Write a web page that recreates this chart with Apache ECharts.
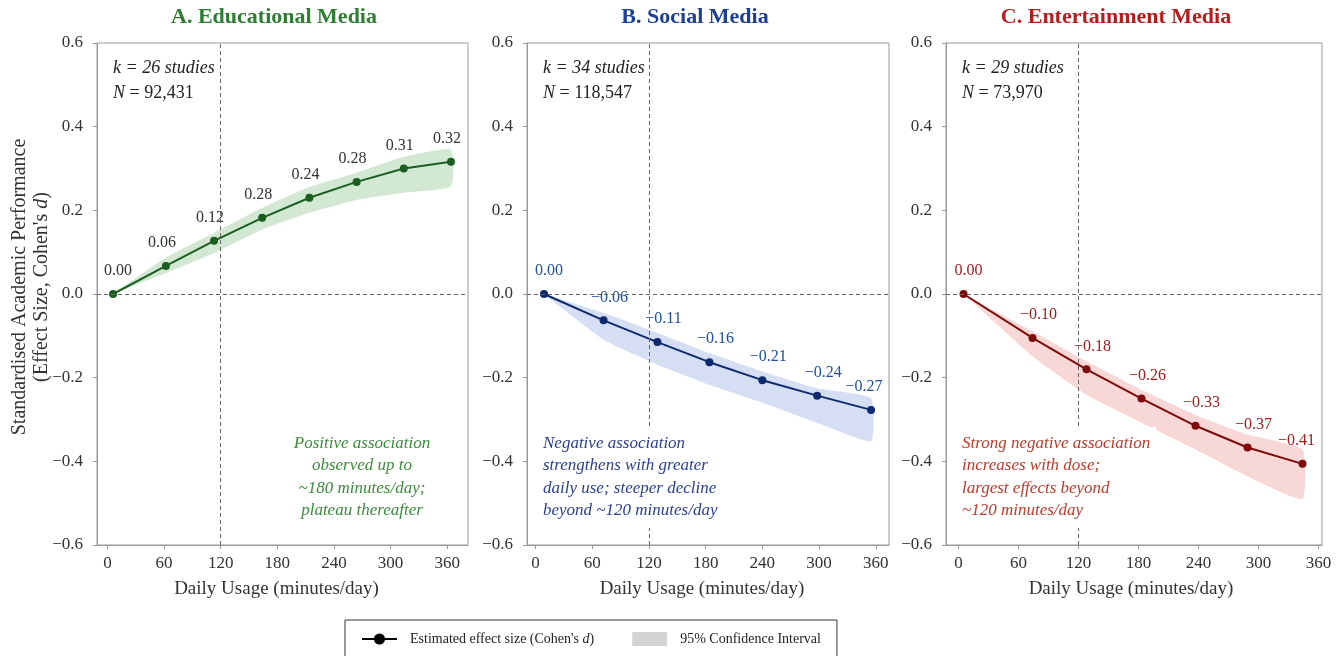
<!DOCTYPE html>
<html>
<head>
<meta charset="utf-8">
<script src="https://cdn.jsdelivr.net/npm/echarts@6/dist/echarts.min.js"></script>
<style>
  html, body { margin: 0; padding: 0; background: #fff; }
  #chart { width: 1343px; height: 656px; }
</style>
</head>
<body>
<div id="chart"></div>
<script>
// A. educational media
const eduX = [6, 62, 113, 164, 214, 264, 314, 364]
const eduY = [0.000, 0.067, 0.127, 0.182, 0.230, 0.268, 0.300, 0.316]
const eduLow = [0.000, 0.050, 0.098, 0.154, 0.194, 0.225, 0.242, 0.257]
const eduHigh = [0.000, 0.087, 0.146, 0.206, 0.256, 0.290, 0.328, 0.345]
const eduLabels = ['0.00', '0.06', '0.12', '0.28', '0.24', '0.28', '0.31', '0.32']

// B. social media
const socX = [9, 72, 129, 184, 240, 298, 355]
const socY = [0.000, -0.063, -0.115, -0.163, -0.206, -0.243, -0.277]
const socLow = [0.000, -0.109, -0.169, -0.217, -0.260, -0.308, -0.352]
const socHigh = [0.000, -0.045, -0.093, -0.141, -0.185, -0.225, -0.249]
const socLabels = ['0.00', '−0.06', '−0.11', '−0.16', '−0.21', '−0.24', '−0.27']

// C. entertainment media
const entX = [5, 74, 128, 183, 237, 289, 344]
const entY = [0.000, -0.105, -0.180, -0.250, -0.315, -0.367, -0.406]
const entLow = [0.000, -0.149, -0.241, -0.308, -0.372, -0.436, -0.490]
const entHigh = [0.000, -0.089, -0.161, -0.229, -0.289, -0.336, -0.372]
const entLabels = ['0.00', '−0.10', '−0.18', '−0.26', '−0.33', '−0.37', '−0.41']

const xTicks = [0, 60, 120, 180, 240, 300, 360]
const refX = 120

const EFF = "Estimated effect size (Cohen's d)"
const CI = '95% Confidence Interval'
const serif = '"Liberation Serif", "DejaVu Serif", serif'

// panel layout + colours
const panels = [
    {
        title: 'A. Educational Media', titleColor: '#2e7d32', titleX: 274,
        line: '#1b5e20', band: 'rgba(110,180,110,0.30)', labelColor: '#333',
        noteColor: '#3c8c3c', grid: {left: 97, top: 43, width: 371, height: 502}, xr: [-11, 382],
        x: eduX, y: eduY, lo: eduLow, hi: eduHigh, labels: eduLabels, dx: -4, lastDx: -4, nameShift: 12,
        k: 'k = 26 studies', n: ' = 92,431',
        note: ['Positive association', 'observed up to', '~180 minutes/day;', 'plateau thereafter'],
        noteX: 362, noteAlign: 'center'
    },
    {
        title: 'B. Social Media', titleColor: '#1c3f94', titleX: 695,
        line: '#0d2a6e', band: 'rgba(90,125,210,0.25)', labelColor: '#1f4fa0',
        noteColor: '#2b3f94', grid: {left: 527, top: 43, width: 362, height: 502}, xr: [-9, 374],
        x: socX, y: socY, lo: socLow, hi: socHigh, labels: socLabels, dx: 6, lastDx: -7, nameShift: 12,
        k: 'k = 34 studies', n: ' = 118,547',
        note: ['Negative association', 'strengthens with greater', 'daily use; steeper decline', 'beyond ~120 minutes/day'],
        noteX: 537, noteAlign: 'left'
    },
    {
        title: 'C. Entertainment Media', titleColor: '#b71c1c', titleX: 1116,
        line: '#7f0a0a', band: 'rgba(230,110,110,0.28)', labelColor: '#a31c1c',
        noteColor: '#c0392b', grid: {left: 946, top: 43, width: 376, height: 502}, xr: [-12.5, 363.5],
        x: entX, y: entY, lo: entLow, hi: entHigh, labels: entLabels, dx: 6, lastDx: -6, nameShift: 6,
        k: 'k = 29 studies', n: ' = 73,970',
        note: ['Strong negative association', 'increases with dose;', 'largest effects beyond', '~120 minutes/day'],
        noteX: 956, noteAlign: 'left'
    }
]

const fmtY = v => Math.abs(v) < 1e-9 ? '0.0' : v.toFixed(1).replace('-', '−')

let grids = [], xAxes = [], yAxes = [], series = [], titles = [], graphics = []

panels.forEach((p, i) => {
    grids.push(Object.assign({show: true, borderColor: '#9a9a9a', borderWidth: 1, backgroundColor: '#fff'}, p.grid))
    titles.push({
        text: p.title, left: p.titleX, top: 6, textAlign: 'center', padding: 0,
        textStyle: {fontFamily: serif, fontSize: 22, fontWeight: 'bold', color: p.titleColor}
    })
    xAxes.push({
        type: 'value', gridIndex: i, min: p.xr[0], max: p.xr[1],
        axisLine: {show: true, onZero: false, lineStyle: {color: '#9a9a9a'}},
        axisTick: {show: true, customValues: xTicks, length: 4, lineStyle: {color: '#9a9a9a'}},
        axisLabel: {customValues: xTicks, margin: 10, fontSize: 17, color: '#333', fontFamily: serif},
        splitLine: {show: false},
        name: 'Daily Usage (minutes/day)', nameLocation: 'middle', nameGap: 35,
        nameTextStyle: {fontFamily: serif, fontSize: 19, color: '#333', padding: [0, p.nameShift, 0, 0]}
    })
    let ya = {
        type: 'value', gridIndex: i, min: -0.6, max: 0.6, interval: 0.2,
        axisLine: {show: true, onZero: false, lineStyle: {color: '#9a9a9a'}},
        axisTick: {show: true, length: 4, lineStyle: {color: '#9a9a9a'}},
        axisLabel: {margin: 14, fontSize: 17, color: '#333', fontFamily: serif, formatter: fmtY},
        splitLine: {show: false}
    }
    if (i == 0) {
        ya.name = "Standardised Academic Performance\n(Effect Size, Cohen's {i|d})"
        ya.nameLocation = 'middle'
        ya.nameRotate = 90
        ya.nameGap = 44
        ya.nameMoveOverlap = false
        ya.nameTextStyle = {
            fontFamily: serif, fontSize: 20, color: '#333', lineHeight: 22, padding: [0, 0, 0, 14],
            rich: {i: {fontFamily: serif, fontSize: 20, color: '#333', fontStyle: 'italic', lineHeight: 22}}
        }
    }
    yAxes.push(ya)

    // confidence band, drawn as one polygon through the axis scales
    series.push({
        name: CI, type: 'custom', xAxisIndex: i, yAxisIndex: i, silent: true, z: 1,
        data: p.x.map((x, j) => [x, p.lo[j], p.hi[j]]),
        encode: {x: 0, y: [1, 2]},
        itemStyle: {color: p.band},
        renderItem: (params, api) => {
            if (params.dataIndex !== 0) return
            let pts = []
            p.x.forEach((x, j) => pts.push(api.coord([x, p.hi[j]])))
            for (let j = p.x.length - 1; j >= 0; j--) pts.push(api.coord([p.x[j], p.lo[j]]))
            return {type: 'polygon', shape: {points: pts, smooth: 0.15}, style: {fill: p.band}}
        },
        markLine: {
            silent: true, symbol: ['none', 'none'], label: {show: false},
            lineStyle: {color: '#666', type: [4, 3], width: 1},
            data: [{yAxis: 0}, {xAxis: refX}]
        }
    })
    series.push({
        name: EFF, type: 'line', xAxisIndex: i, yAxisIndex: i,
        data: p.x.map((x, j) => {
            let dx = j == 0 ? 5 : (j == p.x.length - 1 ? p.lastDx : p.dx)
            return {value: [x, p.y[j]], label: {offset: [dx, 0]}}
        }),
        symbol: 'circle', symbolSize: 8, z: 3,
        lineStyle: {color: p.line, width: 2}, itemStyle: {color: p.line},
        label: {
            show: true, position: 'top', distance: 11,
            color: p.labelColor, fontSize: 16, fontFamily: serif,
            formatter: q => p.labels[q.dataIndex]
        }
    })

    // study counts
    let gx = p.grid.left + 16
    graphics.push({
        type: 'text', left: gx, top: 59, z: 100,
        style: {text: p.k, fill: '#222', fontFamily: serif, fontSize: 18, fontStyle: 'italic'}
    })
    graphics.push({
        type: 'text', left: gx, top: 84, z: 100,
        style: {
            text: '{i|N}' + p.n, fill: '#222', fontFamily: serif, fontSize: 18,
            rich: {i: {fontFamily: serif, fontSize: 18, fontStyle: 'italic', fill: '#222'}}
        }
    })
    // interpretation note
    graphics.push({
        type: 'text', x: p.noteX, y: 427, z: 100,
        style: {
            text: p.note.join('\n'), fill: p.noteColor, fontFamily: serif, fontSize: 17,
            fontStyle: 'italic', lineHeight: 22.5, align: p.noteAlign, verticalAlign: 'top',
            backgroundColor: '#fff', padding: [5, 6, 6, 6]
        }
    })
})

let chart = echarts.init(document.getElementById('chart'))
chart.setOption({
    animation: false,
    title: titles,
    grid: grids,
    xAxis: xAxes,
    yAxis: yAxes,
    legend: {
        left: 345, top: 620,
        padding: [12, 16, 20, 16], itemGap: 38, itemWidth: 35, itemHeight: 14,
        borderColor: '#333', borderWidth: 1, selectedMode: false,
        textStyle: {
            fontFamily: serif, fontSize: 14, color: '#222', padding: [0, 0, 0, 8],
            rich: {i: {fontFamily: serif, fontSize: 14, color: '#222', fontStyle: 'italic'}}
        },
        formatter: name => name == EFF ? "Estimated effect size (Cohen's {i|d})" : name,
        data: [
            {name: EFF, itemStyle: {color: '#000'}, lineStyle: {color: '#000', width: 2}},
            {name: CI, icon: 'rect', itemStyle: {color: '#d4d4d4'}}
        ]
    },
    graphic: graphics,
    series: series
})
</script>
</body>
</html>
